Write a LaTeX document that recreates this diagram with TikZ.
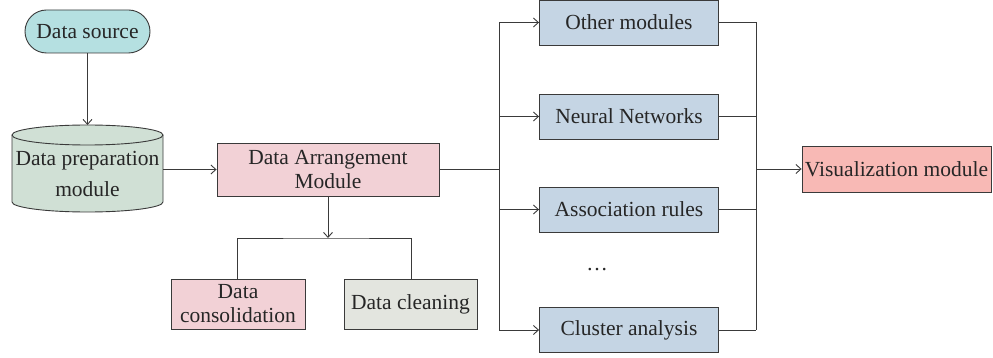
\documentclass[tikz,border=0pt]{standalone}
\usepackage{fontspec}
\setmainfont{Liberation Serif}
\usetikzlibrary{arrows.meta}
\definecolor{srcfill}{HTML}{B5E0E1}
\definecolor{cylfill}{HTML}{D0E0D5}
\definecolor{pinkfill}{HTML}{F2D1D6}
\definecolor{grayfill}{HTML}{E3E5DF}
\definecolor{bluefill}{HTML}{C5D5E4}
\definecolor{visfill}{HTML}{F8B9B5}
\definecolor{linec}{HTML}{3A3A3A}
\tikzset{
  box/.style={draw=linec, line width=0.9pt, rectangle, align=center, inner sep=1pt,
    font=\fontsize{21.5}{24}\selectfont, text=black!85},
  bluebox/.style={box, fill=bluefill, minimum width=179pt, minimum height=45pt},
  conn/.style={draw=linec, line width=0.9pt},
  arr/.style={conn, -{Straight Barb[length=5pt,width=9pt]}},
}
\begin{document}
\begin{tikzpicture}[x=1pt,y=1pt]
\useasboundingbox (0,0) rectangle (993,-358);
% data source
\node[box, fill=srcfill, rounded corners=21.5pt, minimum width=125pt, minimum height=43pt] (src) at (87.5,-31.5) {Data source};
% cylinder
\fill[cylfill] (12,-135) -- (12,-202) arc[start angle=180,end angle=360,x radius=75.5pt,y radius=10pt] -- (163,-135) -- cycle;
\draw[conn] (12,-135) -- (12,-202) arc[start angle=180,end angle=360,x radius=75.5pt,y radius=10pt] -- (163,-135);
\draw[conn, fill=cylfill] (87.5,-135) ellipse [x radius=75.5pt, y radius=10pt];
\node[align=center, inner sep=0pt, font=\fontsize{21.5}{31}\selectfont, text=black!85] (prep) at (87.5,-174) {Data preparation\\module};
\coordinate (preptop) at (87.5,-125);
\coordinate (prepright) at (163,-169.5);
% arrangement
\node[box, fill=pinkfill, minimum width=222pt, minimum height=53pt] (arrm) at (328,-169.5) {Data Arrangement\\Module};
\node[box, fill=pinkfill, minimum width=134pt, minimum height=50pt] (cons) at (238,-304) {Data\\consolidation};
\node[box, fill=grayfill, minimum width=133pt, minimum height=50pt] (clean) at (410.5,-304) {Data cleaning};
% blue boxes
\node[bluebox] (other) at (629,-22.5) {Other modules};
\node[bluebox] (nn) at (629,-116.5) {Neural Networks};
\node[bluebox] (assoc) at (629,-209.5) {Association rules};
\node[bluebox] (clus) at (629,-330) {Cluster analysis};
\node[font=\fontsize{21.5}{24}\selectfont, text=black!85] (dots) at (597,-270) {\dots};
% visualization
\node[box, fill=visfill, minimum width=189pt, minimum height=46pt] (vis) at (896.5,-169) {Visualization module};
% connectors
\draw[arr] (src.south) -- (preptop);
\draw[arr] (prepright) -- (arrm.west);
\coordinate (split) at (328,-238);
\draw[arr] (arrm.south) -- (split);
\draw[conn] (cons.north -| 237,0) |- (split) -| (clean.north -| 411,0);
\coordinate (trunk) at (499,-169.5);
\draw[conn] (arrm.east) -- (trunk);
\draw[conn] (trunk |- other.west) -- (trunk |- clus.west);
\draw[arr] (trunk |- other.west) -- (other.west);
\draw[arr] (trunk |- nn.west) -- (nn.west);
\draw[arr] (trunk |- assoc.west) -- (assoc.west);
\draw[arr] (trunk |- clus.west) -- (clus.west);
\coordinate (merge) at (756,-169);
\draw[conn] (merge |- other.east) -- (merge |- clus.east);
\draw[conn] (other.east) -- (merge |- other.east);
\draw[conn] (nn.east) -- (merge |- nn.east);
\draw[conn] (assoc.east) -- (merge |- assoc.east);
\draw[conn] (clus.east) -- (merge |- clus.east);
\draw[arr] (merge) -- (vis.west);
\end{tikzpicture}
\end{document}
